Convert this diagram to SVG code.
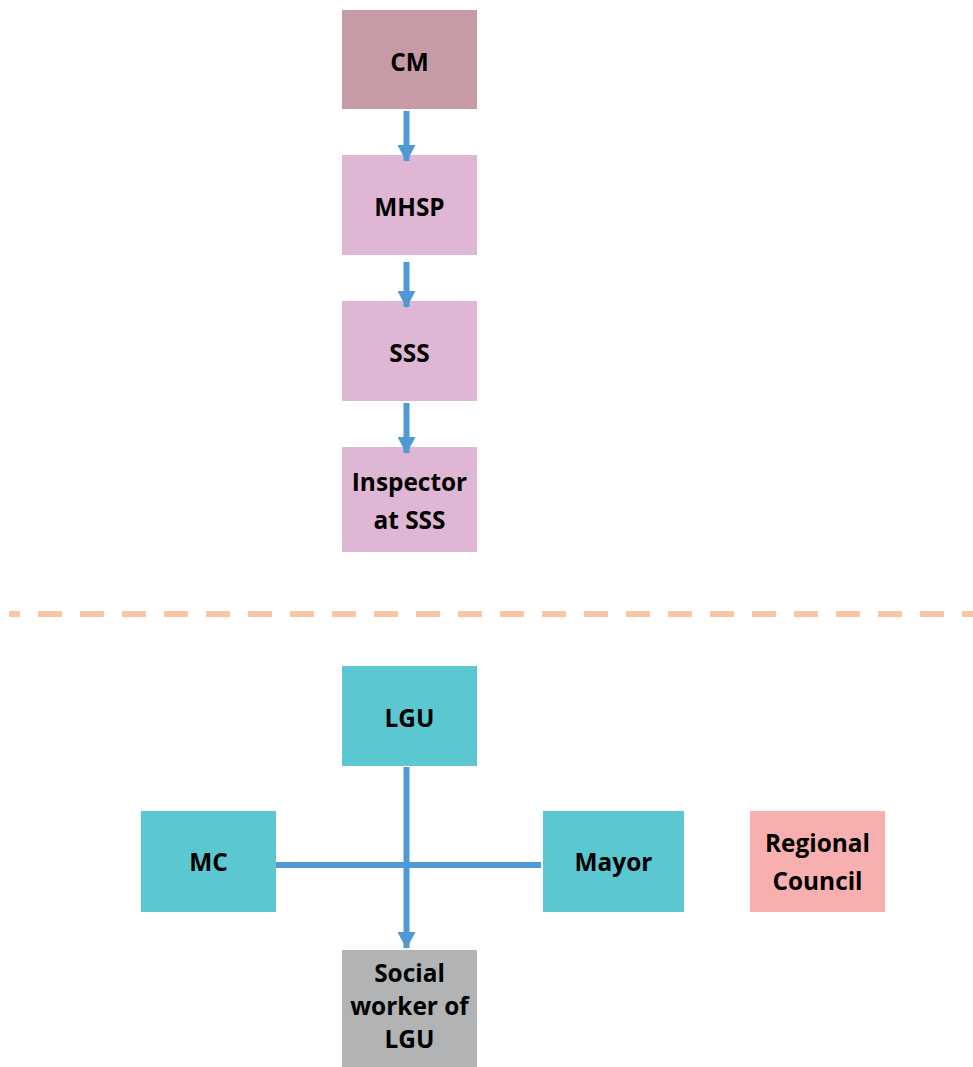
<svg xmlns="http://www.w3.org/2000/svg" width="973" height="1067" viewBox="0 0 973 1067">
  <style>
    .lbl { font-family: "Open Sans", Lato, "Liberation Sans", sans-serif; font-weight: 700; font-size: 24.4px; fill: #000; text-anchor: middle; }
    .conn { stroke: #4F99D5; stroke-width: 6; fill: none; }
  </style>
  <defs>
    <marker id="head" markerUnits="userSpaceOnUse" markerWidth="17" markerHeight="18" refX="16" refY="9" orient="auto" viewBox="0 0 17 18">
      <path d="M0,0 L17,9 L0,18 Z" fill="#4F99D5"/>
    </marker>
  </defs>
  <rect width="973" height="1067" fill="#fff"/>

  <!-- upper chain -->
  <g id="cm"><rect x="342" y="10" width="135" height="99" fill="#C69BA5"/><text class="lbl" x="409.5" y="71">CM</text></g>
  <g id="mhsp"><rect x="342" y="155" width="135" height="100" fill="#DFB6D3"/><text class="lbl" x="409.5" y="216">MHSP</text></g>
  <g id="sss"><rect x="342" y="301" width="135" height="100" fill="#DFB6D3"/><text class="lbl" x="409.5" y="362">SSS</text></g>
  <g id="inspector"><rect x="342" y="447" width="135" height="105" fill="#DFB6D3"/><text class="lbl" x="409.5" y="491">Inspector</text><text class="lbl" x="409.5" y="529">at SSS</text></g>

  <!-- divider -->
  <line x1="9" y1="614" x2="973" y2="614" stroke="#F9C5A5" stroke-width="6" stroke-dasharray="24 18" stroke-dashoffset="13"/>

  <!-- lower group -->
  <g id="lgu"><rect x="342" y="666" width="135" height="100" fill="#5BC7D1"/><text class="lbl" x="409.5" y="727">LGU</text></g>
  <g id="mc"><rect x="141" y="811" width="135" height="101" fill="#5BC7D1"/><text class="lbl" x="208.5" y="871">MC</text></g>
  <g id="mayor"><rect x="543" y="811" width="141" height="101" fill="#5BC7D1"/><text class="lbl" x="613.5" y="871">Mayor</text></g>
  <g id="regional-council"><rect x="750" y="811" width="135" height="101" fill="#F8AFAF"/><text class="lbl" x="817.5" y="852">Regional</text><text class="lbl" x="817.5" y="890">Council</text></g>
  <g id="social-worker"><rect x="342" y="950" width="135" height="117" fill="#B1B3B4"/><text class="lbl" x="409.5" y="982">Social</text><text class="lbl" x="409.5" y="1015">worker of</text><text class="lbl" x="409.5" y="1048">LGU</text></g>

  <g id="connectors">
    <line class="conn" x1="406.5" y1="111" x2="406.5" y2="161" marker-end="url(#head)"/>
    <line class="conn" x1="406.5" y1="262" x2="406.5" y2="307" marker-end="url(#head)"/>
    <line class="conn" x1="406.5" y1="403" x2="406.5" y2="453" marker-end="url(#head)"/>
    <line class="conn" x1="406.5" y1="767" x2="406.5" y2="948" marker-end="url(#head)"/>
    <line class="conn" x1="276" y1="865" x2="541" y2="865"/>
  </g>
</svg>
